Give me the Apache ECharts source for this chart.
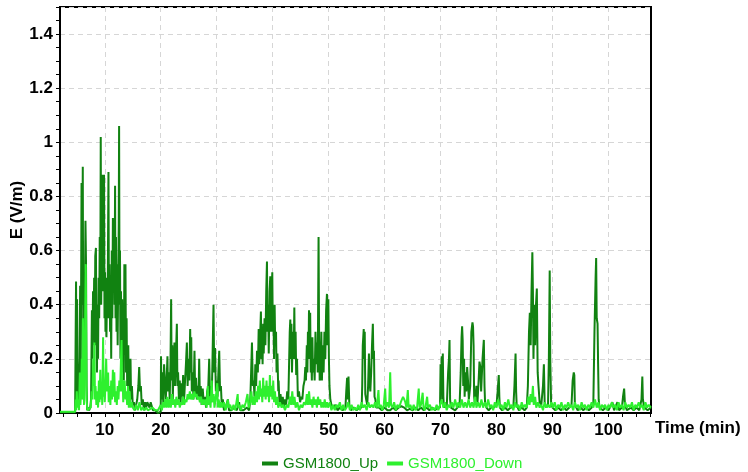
<!DOCTYPE html>
<html>
<head>
<meta charset="utf-8">
<script src="https://cdn.jsdelivr.net/npm/echarts@6/dist/echarts.min.js"></script>
<style>html,body{margin:0;padding:0;background:#fff}#c{width:748px;height:472px}</style>
</head>
<body>
<div id="c"></div>
<script>
const seriesNames = ['GSM1800_Up', 'GSM1800_Down'];
const xLabelValues = [10, 20, 30, 40, 50, 60, 70, 80, 90, 100];
const xMinorTickValues = [2.5,5,7.5,10,12.5,15,17.5,20,22.5,25,27.5,30,32.5,35,37.5,40,42.5,45,47.5,50,52.5,55,57.5,60,62.5,65,67.5,70,72.5,75,77.5,80,82.5,85,87.5,90,92.5,95,97.5,100,102.5,105,107.5];

// GSM1800_Up: [time (min), E (V/m)]
const upPoints = [
[2.0,0.003],[4.7,0.003],[4.8,0.3],[4.87,0.486],[4.95,0.07],[5.05,0.42],[5.15,0.05],[5.3,0.03],[5.5,0.2],[5.6,0.47],[5.7,0.1],[5.85,0.85],[5.95,0.4],[6.07,0.91],[6.15,0.3],[6.25,0.05],[6.4,0.3],[6.55,0.71],[6.65,0.55],[6.75,0.1],[6.85,0.01],[7.0,0.02],[7.2,0.01],[7.4,0.02],[7.55,0.05],[7.7,0.38],[7.8,0.2],[7.9,0.45],[8.0,0.3],[8.1,0.5],[8.2,0.25],[8.3,0.58],[8.42,0.61],[8.5,0.3],[8.6,0.15],[8.7,0.4],[8.8,0.2],[8.9,0.5],[9.0,0.35],[9.1,0.65],[9.2,0.45],[9.28,1.02],[9.36,0.4],[9.45,0.6],[9.55,0.5],[9.64,0.88],[9.72,0.45],[9.8,0.7],[9.87,0.88],[9.95,0.35],[10.05,0.52],[10.12,0.3],[10.2,0.5],[10.3,0.28],[10.4,0.45],[10.5,0.35],[10.6,0.7],[10.66,0.89],[10.75,0.35],[10.85,0.55],[10.95,0.3],[11.05,0.45],[11.15,0.2],[11.25,0.6],[11.35,0.35],[11.45,0.72],[11.55,0.5],[11.65,0.7],[11.75,0.4],[11.84,0.84],[11.92,0.35],[12.0,0.65],[12.1,0.3],[12.2,0.55],[12.3,0.25],[12.4,0.5],[12.5,0.7],[12.56,1.06],[12.64,0.4],[12.72,0.6],[12.8,0.2],[12.9,0.45],[13.0,0.15],[13.1,0.42],[13.2,0.2],[13.3,0.4],[13.4,0.12],[13.5,0.55],[13.6,0.3],[13.7,0.55],[13.8,0.15],[13.9,0.35],[14.0,0.1],[14.1,0.22],[14.2,0.25],[14.3,0.08],[14.45,0.18],[14.6,0.2],[14.7,0.05],[14.85,0.1],[15.0,0.03],[15.2,0.04],[15.4,0.01],[15.6,0.03],[15.8,0.05],[16.0,0.1],[16.15,0.17],[16.3,0.08],[16.45,0.1],[16.6,0.03],[16.8,0.05],[17.0,0.01],[17.2,0.04],[17.4,0.02],[17.6,0.04],[17.8,0.04],[18.0,0.02],[18.2,0.04],[18.4,0.04],[18.6,0.01],[19.0,0.01],[19.5,0.0],[20.0,0.005],
[20.05,0.21],[20.15,0.05],[20.3,0.15],[20.45,0.04],[20.6,0.18],[20.8,0.18],[20.9,0.05],[21.05,0.12],[21.2,0.21],[21.3,0.08],[21.45,0.15],[21.6,0.05],[21.75,0.2],[21.86,0.42],[21.95,0.12],[22.05,0.25],[22.15,0.05],[22.3,0.18],[22.45,0.26],[22.55,0.1],[22.7,0.2],[22.88,0.33],[22.98,0.1],[23.1,0.15],[23.25,0.05],[23.4,0.12],[23.55,0.04],[23.7,0.11],[23.85,0.06],[24.0,0.14],[24.15,0.04],[24.3,0.1],[24.5,0.18],[24.67,0.26],[24.8,0.1],[24.95,0.2],[25.1,0.12],[25.26,0.31],[25.36,0.15],[25.45,0.28],[25.55,0.08],[25.7,0.15],[25.85,0.05],[26.03,0.23],[26.15,0.07],[26.3,0.13],[26.45,0.05],[26.6,0.1],[26.75,0.06],[26.87,0.2],[27.0,0.05],[27.15,0.1],[27.3,0.03],[27.5,0.09],[27.7,0.03],[27.9,0.06],[28.1,0.02],[28.3,0.08],[28.5,0.1],[28.66,0.2],[28.8,0.06],[28.95,0.1],[29.1,0.04],[29.25,0.2],[29.43,0.4],[29.55,0.15],[29.7,0.24],[29.85,0.08],[30.0,0.12],[30.15,0.06],[30.3,0.15],[30.45,0.23],[30.6,0.08],[30.75,0.1],[30.9,0.03],[31.1,0.05],[31.3,0.01],[31.6,0.02],[32.0,0.05],[32.2,0.01],[32.6,0.01],[33.2,0.02],[33.6,0.01],[34.0,0.04],[34.2,0.01],[34.8,0.01],[35.4,0.02],[35.8,0.01],
[36.0,0.05],[36.15,0.15],[36.3,0.26],[36.45,0.1],[36.6,0.12],[36.75,0.06],[36.9,0.18],[37.05,0.1],[37.2,0.23],[37.35,0.15],[37.5,0.31],[37.6,0.18],[37.75,0.28],[37.9,0.375],[38.0,0.2],[38.1,0.3],[38.2,0.18],[38.3,0.33],[38.4,0.22],[38.55,0.35],[38.7,0.25],[38.85,0.45],[38.98,0.56],[39.08,0.3],[39.2,0.4],[39.3,0.22],[39.45,0.45],[39.57,0.505],[39.67,0.3],[39.8,0.42],[39.93,0.52],[40.03,0.3],[40.15,0.35],[40.25,0.2],[40.35,0.4],[40.45,0.25],[40.6,0.3],[40.7,0.15],[40.85,0.22],[41.0,0.08],[41.06,0.12],[41.2,0.04],[41.4,0.07],[41.6,0.03],[41.8,0.06],[42.0,0.02],[42.2,0.05],[42.4,0.03],[42.6,0.08],[42.8,0.05],[42.95,0.2],[43.05,0.3],[43.15,0.345],[43.25,0.2],[43.35,0.33],[43.45,0.15],[43.6,0.3],[43.75,0.2],[43.87,0.39],[43.97,0.2],[44.1,0.3],[44.2,0.14],[44.35,0.2],[44.5,0.06],[44.7,0.08],[44.9,0.04],[45.1,0.06],[45.3,0.05],[45.5,0.1],[45.7,0.12],[45.83,0.17],[45.95,0.12],[46.1,0.25],[46.2,0.15],[46.3,0.3],[46.4,0.2],[46.49,0.38],[46.6,0.2],[46.7,0.37],[46.8,0.15],[46.9,0.2],[47.0,0.12],[47.1,0.28],[47.2,0.15],[47.35,0.2],[47.5,0.12],[47.65,0.3],[47.8,0.18],[47.95,0.26],[48.05,0.15],[48.2,0.65],[48.3,0.27],[48.4,0.12],[48.55,0.14],[48.7,0.3],[48.8,0.12],[48.95,0.25],[49.1,0.15],[49.25,0.3],[49.4,0.2],[49.55,0.38],[49.7,0.44],[49.8,0.25],[49.95,0.42],[50.05,0.2],[50.15,0.1],[50.3,0.05],[50.5,0.03],[50.8,0.02],[51.2,0.03],[51.6,0.01],[52.0,0.02],[52.5,0.01],[53.0,0.02],[53.15,0.08],[53.3,0.13],[53.4,0.05],[53.55,0.135],[53.7,0.03],[54.0,0.01],
[54.5,0.02],[55.0,0.01],[55.5,0.02],[55.9,0.02],[56.0,0.1],[56.1,0.25],[56.27,0.31],[56.35,0.2],[56.45,0.3],[56.55,0.07],[56.7,0.05],[56.9,0.03],[57.05,0.1],[57.2,0.22],[57.3,0.12],[57.45,0.08],[57.6,0.15],[57.75,0.25],[57.9,0.33],[58.0,0.2],[58.1,0.23],[58.2,0.06],[58.35,0.05],[58.5,0.02],[59.0,0.02],[59.5,0.01],[60.0,0.02],[60.5,0.01],[61.0,0.01],[61.5,0.02],[62.0,0.01],[62.5,0.02],[63.0,0.025],[63.5,0.02],[64.0,0.01],[64.5,0.015],[65.0,0.01],[65.5,0.02],[66.0,0.01],[66.5,0.02],[67.0,0.01],[67.5,0.02],[68.0,0.01],[68.5,0.02],[69.0,0.01],[69.5,0.02],[69.9,0.02],[70.0,0.18],[70.1,0.08],[70.2,0.21],[70.3,0.05],[70.4,0.22],[70.5,0.06],[70.6,0.02],[70.9,0.03],[71.1,0.02],[71.35,0.15],[71.5,0.2],[71.6,0.27],[71.7,0.05],[71.85,0.02],
[72.2,0.02],[72.6,0.01],[73.0,0.02],[73.4,0.03],[73.6,0.15],[73.75,0.28],[73.85,0.32],[73.95,0.27],[74.05,0.1],[74.2,0.2],[74.3,0.06],[74.45,0.15],[74.6,0.08],[74.75,0.17],[74.9,0.12],[75.05,0.05],[75.3,0.1],[75.5,0.3],[75.7,0.335],[75.8,0.32],[75.9,0.25],[76.0,0.06],[76.15,0.03],[76.4,0.1],[76.6,0.04],[76.8,0.12],[76.95,0.19],[77.1,0.17],[77.25,0.08],[77.5,0.2],[77.73,0.27],[77.85,0.1],[77.95,0.04],[78.2,0.02],[78.6,0.01],[79.0,0.02],[79.5,0.02],[80.0,0.03],[80.2,0.08],[80.4,0.14],[80.5,0.06],[80.6,0.02],[81.0,0.01],[81.5,0.02],[82.0,0.01],[82.5,0.02],[83.0,0.02],[83.2,0.1],[83.4,0.22],[83.5,0.08],[83.6,0.03],[84.0,0.01],[84.5,0.02],[85.0,0.01],[85.4,0.02],[85.6,0.1],[85.8,0.3],[85.95,0.37],[86.1,0.25],[86.25,0.45],[86.4,0.594],[86.5,0.45],[86.6,0.2],[86.75,0.4],[86.9,0.25],[87.05,0.4],[87.2,0.46],[87.35,0.15],[87.5,0.1],[87.7,0.04],[88.0,0.03],[88.3,0.1],[88.46,0.18],[88.6,0.04],[88.9,0.02],[89.2,0.03],[89.35,0.2],[89.5,0.526],[89.6,0.2],[89.75,0.04],[90.0,0.02],
[90.5,0.01],[91.0,0.02],[91.5,0.01],[92.0,0.02],[92.5,0.01],[93.0,0.02],[93.4,0.03],[93.6,0.12],[93.8,0.15],[93.9,0.14],[94.0,0.03],[94.5,0.01],[95.0,0.02],[95.5,0.01],[96.0,0.02],[96.5,0.01],[97.0,0.02],[97.3,0.04],[97.5,0.3],[97.7,0.5],[97.8,0.573],[97.9,0.35],[98.05,0.33],[98.15,0.18],[98.25,0.05],[98.4,0.02],[99.0,0.01],[99.5,0.02],[100.0,0.01],[100.5,0.03],[100.7,0.04],[101.0,0.01],[101.4,0.03],[101.6,0.04],[101.9,0.01],[102.4,0.02],[102.6,0.06],[102.8,0.09],[102.95,0.03],[103.3,0.01],[104.0,0.02],[104.5,0.01],[105.0,0.02],[105.5,0.01],[105.9,0.05],[106.05,0.135],[106.15,0.05],[106.4,0.02],[107.0,0.01],[107.6,0.02]
];

// GSM1800_Down: [time (min), E (V/m)]
const downPoints = [
[2.0,0.005],[4.7,0.005],[4.8,0.05],[4.9,0.01],[5.0,0.08],[5.1,0.02],[5.25,0.05],[5.4,0.01],[5.55,0.15],[5.65,0.03],[5.8,0.1],[5.9,0.2],[6.0,0.05],[6.1,0.35],[6.2,0.1],[6.3,0.03],[6.45,0.25],[6.6,0.55],[6.68,0.3],[6.75,0.05],[6.9,0.01],[7.2,0.01],[7.5,0.02],[7.65,0.08],[7.8,0.05],[7.95,0.2],[8.05,0.1],[8.15,0.26],[8.25,0.05],[8.35,0.1],[8.5,0.03],[8.65,0.08],[8.8,0.02],[8.95,0.12],[9.05,0.04],[9.2,0.16],[9.3,0.05],[9.45,0.1],[9.55,0.03],[9.7,0.28],[9.8,0.06],[9.9,0.12],[10.0,0.04],[10.1,0.1],[10.25,0.2],[10.4,0.08],[10.5,0.1],[10.6,0.15],[10.7,0.04],[10.85,0.1],[11.0,0.03],[11.15,0.12],[11.3,0.05],[11.45,0.16],[11.55,0.06],[11.7,0.15],[11.85,0.04],[12.0,0.08],[12.15,0.03],[12.3,0.1],[12.45,0.05],[12.6,0.12],[12.75,0.08],[12.9,0.2],[13.0,0.27],[13.1,0.08],[13.2,0.12],[13.3,0.04],[13.4,0.1],[13.55,0.12],[13.7,0.05],[13.85,0.08],[14.0,0.03],[14.15,0.1],[14.3,0.02],[14.45,0.08],[14.6,0.02],[14.8,0.04],
[15.0,0.02],[15.3,0.01],[15.6,0.03],[15.9,0.01],[16.2,0.04],[16.5,0.01],[16.8,0.02],[17.1,0.01],[17.4,0.02],[17.7,0.01],[18.0,0.01],[18.5,0.02],[19.0,0.01],[19.5,0.01],[20.0,0.03],[20.2,0.01],[20.4,0.04],[20.6,0.02],[20.8,0.05],[21.0,0.02],[21.2,0.06],[21.4,0.02],[21.6,0.05],[21.8,0.02],[22.0,0.07],[22.2,0.03],[22.4,0.05],[22.6,0.02],[22.8,0.06],[23.0,0.03],[23.2,0.05],[23.4,0.02],[23.6,0.04],[23.8,0.03],[24.0,0.06],[24.2,0.03],[24.4,0.05],[24.6,0.04],[24.8,0.07],[25.0,0.05],[25.2,0.08],[25.4,0.05],[25.6,0.07],[25.8,0.05],[26.0,0.08],[26.2,0.06],[26.4,0.07],[26.6,0.05],[26.8,0.06],[27.0,0.04],[27.2,0.06],[27.4,0.03],[27.6,0.05],[27.8,0.03],[28.0,0.05],[28.2,0.02],[28.4,0.1],[28.55,0.03],[28.7,0.06],[28.9,0.02],[29.1,0.12],[29.25,0.04],[29.45,0.07],[29.6,0.02],[29.8,0.05],[30.1,0.11],[30.2,0.02],[30.35,0.05],[30.6,0.02],[30.8,0.04],[31.0,0.02],[31.3,0.04],[31.6,0.01],[32.0,0.05],[32.1,0.02],[32.4,0.03],[32.7,0.01],[33.0,0.03],[33.3,0.01],[33.75,0.07],[33.85,0.02],[34.0,0.03],[34.3,0.01],[34.6,0.03],[34.9,0.02],[35.2,0.04],[35.5,0.07],[35.7,0.02],[36.0,0.04],
[36.2,0.08],[36.4,0.03],[36.6,0.06],[36.8,0.03],[37.0,0.08],[37.2,0.04],[37.4,0.1],[37.55,0.05],[37.7,0.12],[37.85,0.06],[38.0,0.09],[38.15,0.04],[38.3,0.13],[38.45,0.06],[38.6,0.1],[38.75,0.05],[38.9,0.12],[39.05,0.06],[39.2,0.1],[39.35,0.04],[39.5,0.14],[39.65,0.06],[39.8,0.1],[39.95,0.05],[40.1,0.12],[40.25,0.04],[40.4,0.08],[40.6,0.03],[40.8,0.06],[41.0,0.02],[41.3,0.04],[41.6,0.02],[41.9,0.03],[42.2,0.01],[42.5,0.03],[42.8,0.02],[43.1,0.06],[43.3,0.03],[43.5,0.08],[43.7,0.03],[43.9,0.06],[44.1,0.02],[44.4,0.04],[44.7,0.01],[45.0,0.03],[45.3,0.02],[45.6,0.04],[45.9,0.03],[46.1,0.07],[46.3,0.03],[46.5,0.08],[46.7,0.03],[46.9,0.05],[47.1,0.02],[47.3,0.06],[47.5,0.03],[47.7,0.05],[47.9,0.02],[48.1,0.06],[48.3,0.03],[48.5,0.05],[48.7,0.02],[48.9,0.04],[49.1,0.02],[49.3,0.05],[49.5,0.02],[49.7,0.04],[49.9,0.02],[50.2,0.04],[50.5,0.01],[50.8,0.03],[51.1,0.01],[51.4,0.03],[51.7,0.02],[52.0,0.04],[52.3,0.01],[52.6,0.03],[52.9,0.01],[53.2,0.02],[53.5,0.04],[53.8,0.01],
[54.1,0.03],[54.4,0.01],[54.7,0.02],[55.0,0.01],[55.3,0.03],[55.6,0.01],[55.9,0.04],[56.2,0.02],[56.5,0.03],[56.8,0.01],[57.1,0.04],[57.4,0.02],[57.7,0.03],[58.0,0.02],[58.3,0.04],[58.6,0.02],[58.9,0.085],[59.05,0.02],[59.3,0.03],[59.6,0.01],[59.85,0.03],[60.1,0.09],[60.25,0.02],[60.5,0.04],[60.8,0.02],[61.0,0.15],[61.15,0.03],[61.4,0.02],[61.7,0.04],[62.0,0.01],[62.3,0.03],[62.6,0.02],[62.9,0.04],[63.1,0.05],[63.3,0.06],[63.5,0.05],[63.7,0.04],[63.9,0.02],[64.15,0.085],[64.3,0.02],[64.6,0.03],[64.9,0.01],[65.2,0.03],[65.5,0.01],[65.8,0.02],[66.1,0.09],[66.25,0.02],[66.5,0.03],[66.8,0.075],[66.95,0.02],[67.2,0.01],[67.6,0.06],[67.75,0.02],[68.1,0.03],[68.4,0.01],[68.7,0.02],[69.0,0.01],[69.3,0.03],[69.6,0.01],[69.9,0.03],[70.2,0.05],[70.5,0.02],[70.8,0.04],[71.1,0.01],[71.4,0.03],[71.7,0.02],
[72.0,0.04],[72.3,0.02],[72.6,0.05],[72.9,0.02],[73.2,0.04],[73.5,0.02],[73.8,0.05],[74.1,0.02],[74.4,0.04],[74.7,0.02],[75.0,0.05],[75.3,0.02],[75.6,0.04],[75.9,0.02],[76.2,0.06],[76.4,0.02],[76.7,0.04],[77.0,0.02],[77.3,0.05],[77.6,0.02],[77.9,0.04],[78.2,0.02],[78.5,0.05],[78.8,0.02],[79.1,0.03],[79.4,0.01],[79.7,0.04],[80.0,0.02],[80.3,0.05],[80.6,0.02],[80.9,0.03],[81.2,0.01],[81.5,0.04],[81.8,0.02],[82.1,0.05],[82.4,0.02],[82.7,0.03],[83.0,0.01],[83.3,0.04],[83.6,0.02],[83.9,0.03],[84.2,0.01],[84.5,0.04],[84.8,0.02],[85.1,0.03],[85.4,0.02],[85.7,0.06],[85.9,0.03],[86.1,0.07],[86.3,0.04],[86.5,0.1],[86.65,0.03],[86.9,0.06],[87.1,0.02],[87.4,0.04],[87.7,0.02],[88.0,0.03],[88.3,0.01],[88.6,0.04],[88.9,0.02],[89.2,0.03],[89.5,0.02],[89.8,0.04],
[90.1,0.02],[90.4,0.04],[90.7,0.01],[91.0,0.03],[91.3,0.02],[91.6,0.04],[91.9,0.01],[92.2,0.03],[92.5,0.02],[92.8,0.04],[93.1,0.02],[93.4,0.03],[93.7,0.01],[94.0,0.04],[94.3,0.02],[94.6,0.03],[94.9,0.01],[95.2,0.04],[95.5,0.02],[95.8,0.03],[96.1,0.01],[96.4,0.03],[96.7,0.02],[97.0,0.04],[97.3,0.02],[97.6,0.05],[97.9,0.02],[98.2,0.04],[98.5,0.01],[98.8,0.03],[99.1,0.02],[99.4,0.03],[99.7,0.01],[100.0,0.03],[100.3,0.02],[100.6,0.04],[100.9,0.02],[101.2,0.03],[101.5,0.01],[101.8,0.04],[102.1,0.02],[102.4,0.03],[102.7,0.01],[103.0,0.04],[103.3,0.02],[103.6,0.03],[103.9,0.02],[104.2,0.04],[104.5,0.01],[104.8,0.03],[105.1,0.02],[105.4,0.04],[105.7,0.02],[106.0,0.03],[106.3,0.01],[106.6,0.04],[106.9,0.02],[107.2,0.03],[107.6,0.02]
];

const upColor = '#118211';
const downColor = '#2ef02e';
const fontFam = 'Arial, "Liberation Sans", sans-serif';

const chart = echarts.init(document.getElementById('c'), null, {renderer: 'canvas'});
chart.setOption({
  animation: false,
  backgroundColor: '#fff',
  grid: {left: 60, right: 97, top: 7, bottom: 59, outerBoundsMode: 'none', containLabel: false,
         show: true, borderColor: '#000', borderWidth: 2, backgroundColor: 'transparent'},
  legend: {
    top: 451, left: 257, icon: 'rect', itemWidth: 16, itemHeight: 4, itemGap: 9,
    data: [
      {name: seriesNames[0], textStyle: {color: upColor}},
      {name: seriesNames[1], textStyle: {color: downColor}}
    ],
    textStyle: {fontFamily: fontFam, fontSize: 15}
  },
  xAxis: [
    {
      type: 'value', min: 2, max: 107.6,
      name: 'Time (min)', nameLocation: 'end', nameGap: 4,
      nameTextStyle: {color: '#000', fontWeight: 'bold', fontSize: 17, fontFamily: fontFam, verticalAlign: 'top', padding: [7, 0, 0, 0]},
      axisLine: {show: true, lineStyle: {color: '#000', width: 2}},
      axisTick: {show: false, customValues: xLabelValues},
      axisLabel: {customValues: xLabelValues, color: '#000', fontWeight: 'bold', fontSize: 17, fontFamily: fontFam, margin: 9},
      splitLine: {show: true, lineStyle: {color: '#d6d6d6', type: [5, 4], width: 1}}
    },
    {
      type: 'value', min: 2, max: 107.6, position: 'bottom',
      axisLine: {show: false},
      axisTick: {show: true, customValues: xMinorTickValues, length: 4, lineStyle: {color: '#000', width: 1}},
      axisLabel: {show: false},
      splitLine: {show: false}
    }
  ],
  yAxis: {
    type: 'value', min: 0, max: 1.5, interval: 0.2,
    name: 'E (V/m)', nameLocation: 'middle', nameGap: 34, nameRotate: 90, nameMoveOverlap: false,
    nameTextStyle: {color: '#000', fontWeight: 'bold', fontSize: 17, fontFamily: fontFam},
    axisLine: {show: true, lineStyle: {color: '#000', width: 2}},
    axisTick: {show: true, length: 4, lineStyle: {color: '#000', width: 1}},
    minorTick: {show: true, splitNumber: 4, length: 4, lineStyle: {color: '#000', width: 1}},
    axisLabel: {color: '#000', fontWeight: 'bold', fontSize: 17, fontFamily: fontFam, margin: 7, showMaxLabel: false},
    splitLine: {show: true, lineStyle: {color: '#d6d6d6', type: [5, 4], width: 1}}
  },
  series: [
    {name: seriesNames[0], type: 'line', xAxisIndex: 0, data: upPoints, showSymbol: false, symbol: 'none',
     lineStyle: {color: upColor, width: 2}, itemStyle: {color: upColor}, sampling: null, z: 2},
    {name: seriesNames[1], type: 'line', xAxisIndex: 0, data: downPoints, showSymbol: false, symbol: 'none',
     lineStyle: {color: downColor, width: 2}, itemStyle: {color: downColor}, sampling: null, z: 3}
  ]
});
</script>
</body>
</html>
